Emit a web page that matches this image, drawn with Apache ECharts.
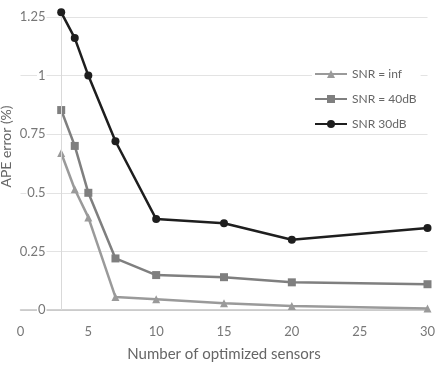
<!DOCTYPE html>
<html>
<head>
<meta charset="utf-8">
<script src="https://cdn.jsdelivr.net/npm/echarts@6/dist/echarts.min.js"></script>
<style>html,body{margin:0;padding:0;background:#fff;}#c{width:438px;height:368px;}</style>
</head>
<body>
<div id="c"></div>
<script>
const sensors = [3, 4, 5, 7, 10, 15, 20, 30];
const snrInf = [0.67, 0.515, 0.395, 0.055, 0.046, 0.029, 0.017, 0.006];
const snr40 = [0.853, 0.70, 0.50, 0.22, 0.149, 0.14, 0.118, 0.11];
const snr30 = [1.27, 1.16, 1.00, 0.72, 0.388, 0.37, 0.30, 0.35];
const seriesNames = ['SNR = inf', 'SNR = 40dB', 'SNR 30dB'];
const xTitle = 'Number of optimized sensors';
const yTitle = 'APE error (%)';

const FONT = 'Lato';
const pair = arr => sensors.map((x, i) => [x, arr[i]]);
const chart = echarts.init(document.getElementById('c'), null, {renderer: 'canvas'});
const mk = (name, data, color, symbol, size) => ({
  name, type: 'line', data: pair(data), symbol, symbolSize: size, clip: false,
  lineStyle: {color, width: 2.5}, itemStyle: {color},
  animation: false, z: 3
});
const s1 = mk(seriesNames[0], snrInf, '#9a9a9a', 'triangle', 8);
s1.markLine = {
  silent: true, symbol: 'none', label: {show: false},
  lineStyle: {color: '#d9d9d9', width: 1, type: 'solid'},
  data: [{xAxis: 3}], animation: false
};
chart.setOption({
  backgroundColor: '#fff',
  animation: false,
  textStyle: {fontFamily: FONT},
  grid: {left: 20.5, right: 10.5, top: 17, bottom: 58, containLabel: false, outerBoundsMode: 'none'},
  legend: {
    orient: 'vertical', left: 312, top: 66, itemGap: 13,
    itemWidth: 32, itemHeight: 10,
    backgroundColor: '#fff', padding: [2, 4, 2, 2],
    textStyle: {fontFamily: FONT, fontSize: 12, color: '#666'},
    data: seriesNames
  },
  xAxis: {
    type: 'value', min: 0, max: 30, interval: 5,
    name: xTitle, nameLocation: 'middle', nameGap: 37, nameMoveOverlap: false,
    nameTextStyle: {fontFamily: FONT, fontSize: 15, color: '#666'},
    axisLine: {show: true, onZero: false, lineStyle: {color: '#c4c4c4', width: 1.5}},
    axisTick: {show: false},
    axisLabel: {fontFamily: FONT, fontSize: 13, color: '#777', margin: 15},
    splitLine: {show: false}
  },
  yAxis: {
    type: 'value', min: 0, max: 1.25, interval: 0.25,
    name: yTitle, nameLocation: 'middle', nameGap: 7, nameRotate: 90, nameMoveOverlap: false,
    nameTextStyle: {fontFamily: FONT, fontSize: 14, color: '#666', padding: [0, 0, 0, 34]},
    axisLine: {show: false},
    axisTick: {show: false},
    axisLabel: {fontFamily: FONT, fontSize: 13, color: '#777', margin: -26, align: 'right',
      backgroundColor: '#fff', padding: [0, 1, 0, 1]},
    splitLine: {show: true, lineStyle: {color: '#e3e3e3', width: 1}}
  },
  series: [
    s1,
    mk(seriesNames[1], snr40, '#7f7f7f', 'rect', 8),
    mk(seriesNames[2], snr30, '#1e1e1e', 'circle', 8)
  ]
});
</script>
</body>
</html>
